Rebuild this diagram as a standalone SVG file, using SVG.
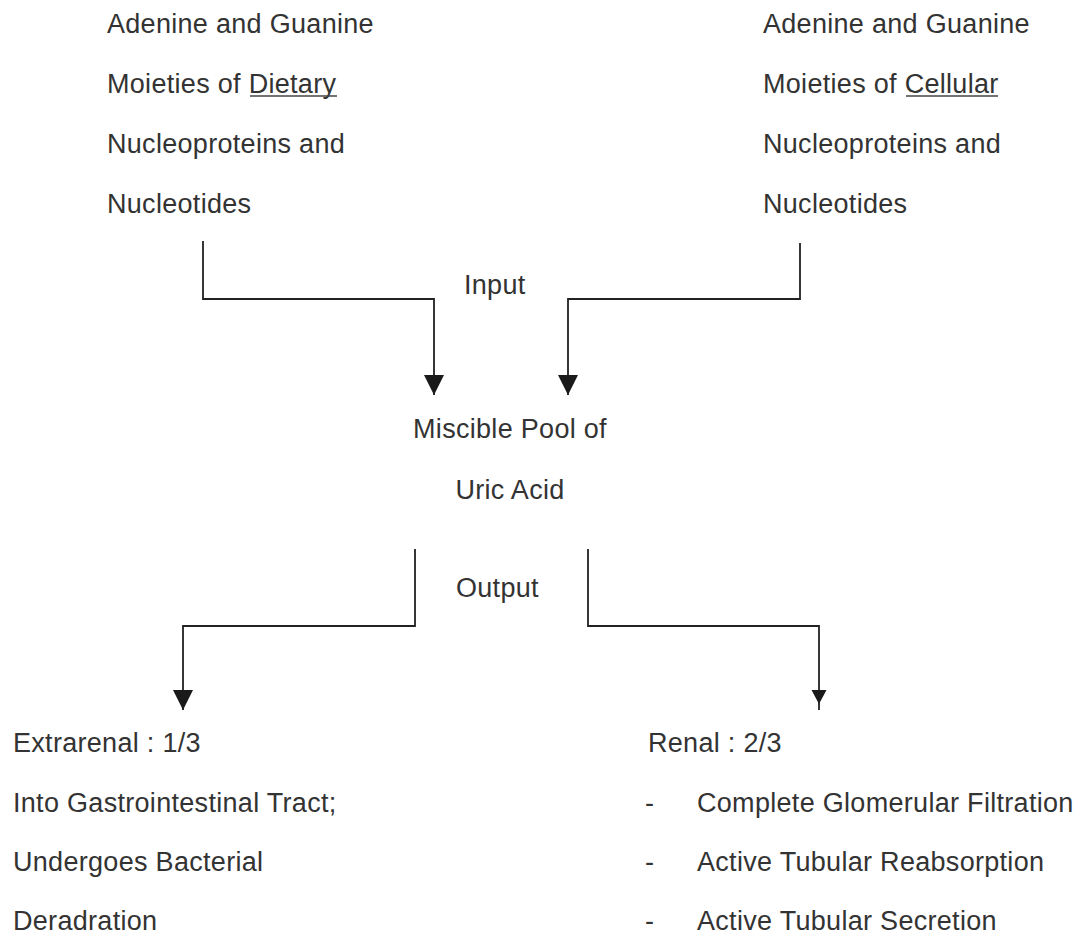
<svg xmlns="http://www.w3.org/2000/svg" width="1082" height="937" viewBox="0 0 1082 937">
<style>
text{font-family:"Liberation Sans",Arial,sans-serif;font-size:27px;fill:#333;letter-spacing:0.3px}
.ln{fill:none;stroke:#222;stroke-width:1.8}
.ul{stroke:#444;stroke-width:1.4}
</style>
<defs>
<marker id="ah" viewBox="0 0 20 20" refX="20" refY="10" markerWidth="20" markerHeight="20" markerUnits="userSpaceOnUse" orient="auto">
<path d="M0,0 L20,10 L0,20 z" fill="#1a1a1a"/>
</marker>
</defs>
<rect width="1082" height="937" fill="#fff"/>
<g id="dietary">
<text x="107" y="33">Adenine and Guanine</text>
<text x="107" y="93">Moieties of Dietary</text>
<line class="ul" x1="250" y1="96" x2="337" y2="96"/>
<text x="107" y="153">Nucleoproteins and</text>
<text x="107" y="213">Nucleotides</text>
</g>
<g id="cellular">
<text x="763" y="33">Adenine and Guanine</text>
<text x="763" y="93">Moieties of Cellular</text>
<line class="ul" x1="906" y1="96" x2="998" y2="96"/>
<text x="763" y="153">Nucleoproteins and</text>
<text x="763" y="213">Nucleotides</text>
</g>
<g id="input-label"><text x="464" y="294">Input</text></g>
<g id="pool">
<text x="510" y="438" text-anchor="middle">Miscible Pool of</text>
<text x="510" y="499" text-anchor="middle">Uric Acid</text>
</g>
<g id="output-label"><text x="456" y="597">Output</text></g>
<g id="extrarenal">
<text x="13" y="752">Extrarenal : 1/3</text>
<text x="13" y="812">Into Gastrointestinal Tract;</text>
<text x="13" y="871">Undergoes Bacterial</text>
<text x="13" y="930">Deradration</text>
</g>
<g id="renal">
<text x="648" y="752">Renal : 2/3</text>
<text x="645" y="812">-</text>
<text x="697" y="812">Complete Glomerular Filtration</text>
<text x="645" y="871">-</text>
<text x="697" y="871">Active Tubular Reabsorption</text>
<text x="645" y="930">-</text>
<text x="697" y="930">Active Tubular Secretion</text>
</g>
<g id="connectors">
<path class="ln" d="M203,241 V299 H434 V395" marker-end="url(#ah)"/>
<path class="ln" d="M800,243 V299 H568 V395" marker-end="url(#ah)"/>
<path class="ln" d="M415,549 V626 H183 V710" marker-end="url(#ah)"/>
<path class="ln" d="M588,549 V626 H819 V710"/>
<polygon points="811.5,690 826.5,690 819,704" fill="#1a1a1a"/>
</g>
</svg>
